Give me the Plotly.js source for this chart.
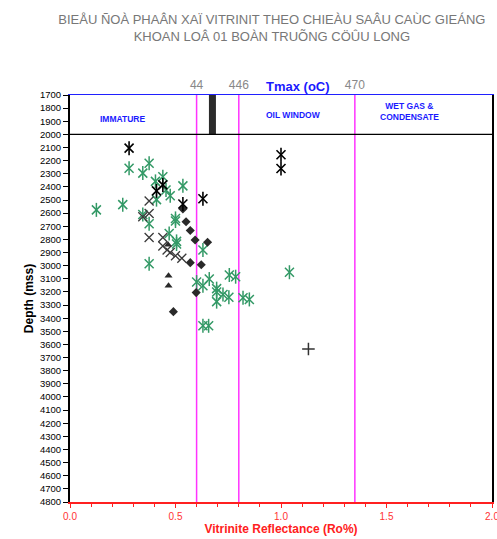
<!DOCTYPE html>
<html>
<head>
<meta charset="utf-8">
<script src="https://cdn.plot.ly/plotly-3.0.1.min.js"></script>
<style>html,body{margin:0;padding:0;background:#fff;}#chart{width:497px;height:539px;}</style>
</head>
<body>
<div id="chart"></div>
<script>
// ---- data ----
const blackAstX = [0.28, 0.41, 0.44, 0.535, 0.63, 1.00, 1.00];
const blackAstY = [2105, 2430, 2385, 2530, 2490, 2155, 2260];

const greenAstX = [0.125, 0.25, 0.28, 0.345, 0.375, 0.405, 0.44, 0.455, 0.475, 0.41, 0.535, 0.345, 0.375, 0.50, 0.50, 0.47, 0.505, 0.505, 0.375, 0.63, 0.60, 0.63, 0.66, 0.755, 0.785, 0.695, 0.695, 0.725, 0.753, 0.695, 0.82, 0.85, 1.04, 0.63, 0.657];
const greenAstY = [2575, 2535, 2258, 2295, 2220, 2358, 2322, 2423, 2468, 2497, 2392, 2610, 2680, 2640, 2660, 2755, 2815, 2835, 2985, 2880, 3125, 3153, 3102, 3071, 3084, 3175, 3200, 3220, 3240, 3274, 3244, 3257, 3050, 3458, 3458];

const crossX = [0.375, 0.375, 0.345, 0.375, 0.44, 0.44, 0.46, 0.475, 0.50, 0.53];
const crossY = [2507, 2603, 2627, 2785, 2785, 2850, 2880, 2900, 2925, 2943];

const diamondX = [0.535, 0.55, 0.57, 0.593, 0.652, 0.57, 0.622, 0.598, 0.49];
const diamondY = [2568, 2665, 2732, 2804, 2822, 2977, 2993, 3205, 3350];

const triangleX = [0.465, 0.467, 0.467];
const triangleY = [2840, 3076, 3152];

const plusX = [1.13];
const plusY = [3635];

const tmaxBarX = [0.675, 0.675];
const tmaxBarY = [1700, 2000];

const zoneBoundaries = [0.6, 0.8, 1.35];
const tmaxLabels = ['44', '446', '470'];
const zoneTopDepth = 2000;
const zoneNames = ['IMMATURE', 'OIL WINDOW', 'WET GAS &<br>CONDENSATE'];
const zoneNameX = [0.248, 1.057, 1.61];
const zoneNameY = [1883, 1852, 1822];

const depthTicks = [];
for (let d = 1700; d <= 4800; d += 100) depthTicks.push(d);

// ---- traces ----
const green = '#339966';
function openMarker(symbol, size, color, width) {
  return {symbol: symbol, size: size, color: color, line: {color: color, width: width}};
}
const traces = [
  {x: tmaxBarX, y: tmaxBarY, mode: 'lines', line: {color: '#2b2b2b', width: 7}, hoverinfo: 'skip'},
  {x: greenAstX, y: greenAstY, mode: 'markers', marker: openMarker('x-thin-open', 9, green, 1.5)},
  {x: greenAstX, y: greenAstY, mode: 'markers', marker: openMarker('line-ns-open', 10, green, 1.5)},
  {x: crossX, y: crossY, mode: 'markers', marker: openMarker('x-thin-open', 9, '#3a3a3a', 1.3)},
  {x: diamondX, y: diamondY, mode: 'markers', marker: {symbol: 'diamond', size: 7, color: '#2a2a2a'}},
  {x: triangleX, y: triangleY, mode: 'markers', marker: {symbol: 'triangle-up', size: 7, color: '#2a2a2a'}},
  {x: blackAstX, y: blackAstY, mode: 'markers', marker: openMarker('x-thin-open', 9, '#000', 1.6)},
  {x: blackAstX, y: blackAstY, mode: 'markers', marker: openMarker('line-ns-open', 10, '#000', 1.6)},
  {x: plusX, y: plusY, mode: 'markers', marker: openMarker('cross-thin-open', 9, '#333', 1.5)},
  {x: [0, 2], y: [1700, 1700], xaxis: 'x2', mode: 'lines', line: {width: 0}, hoverinfo: 'skip'}
];

const shapes = zoneBoundaries.map(v => ({
  type: 'line', xref: 'x', yref: 'y', x0: v, x1: v, y0: 1700, y1: 4800,
  line: {color: '#ff33ff', width: 1.5}, layer: 'below'
}));
shapes.push({type: 'line', xref: 'paper', yref: 'y', x0: 0, x1: 1, y0: zoneTopDepth, y1: zoneTopDepth,
  line: {color: '#000', width: 1.2}});

const annotations = zoneNames.map((t, i) => ({
  x: zoneNameX[i], y: zoneNameY[i], xref: 'x', yref: 'y', text: '<b>' + t + '</b>',
  showarrow: false, font: {family: 'Liberation Sans, Arial', size: 8.5, color: '#1a1aff'}
}));
annotations.push({x: 1.08, y: 1, xref: 'x', yref: 'paper', yanchor: 'bottom', yshift: -1,
  text: '<b>Tmax (oC)</b>', showarrow: false, font: {family: 'Liberation Sans, Arial', size: 13, color: '#1a1aff'}});

const layout = {
  width: 497, height: 539,
  margin: {l: 69.5, r: 5, t: 95, b: 37},
  paper_bgcolor: '#fff', plot_bgcolor: '#fff',
  showlegend: false,
  title: {
    text: 'BIEÅU ÑOÀ PHAÂN XAÏ VITRINIT THEO CHIEÀU SAÂU CAÙC GIEÁNG<br>KHOAN LOÂ 01 BOÀN TRUÕNG CÖÛU LONG',
    x: 0.547, xanchor: 'center', xref: 'container', y: 0.956, yanchor: 'middle', yref: 'container',
    font: {family: 'Liberation Sans, Arial', size: 13, color: '#777'}
  },
  xaxis: {
    range: [0, 2], dtick: 0.5, tickformat: '.1f', showgrid: false, zeroline: false,
    showline: true, linecolor: '#ff2020', linewidth: 2,
    ticks: 'outside', ticklen: 4, tickcolor: '#ff2020', ticklabeloverflow: 'allow',
    minor: {dtick: 0.1, ticks: 'outside', ticklen: 3, tickcolor: '#ff2020', showgrid: false},
    tickfont: {family: 'Liberation Sans, Arial', size: 10, color: '#ff3333'},
    title: {text: '<b>Vitrinite Reflectance (Ro%)</b>', standoff: 2,
      font: {family: 'Liberation Sans, Arial', size: 12, color: '#ff2020'}},
    automargin: false
  },
  xaxis2: {
    overlaying: 'x', side: 'top', range: [0, 2], tickvals: zoneBoundaries, ticktext: tmaxLabels,
    showgrid: false, zeroline: false, showline: true, linecolor: '#2020ff', linewidth: 1.5,
    ticks: '', tickfont: {family: 'Liberation Sans, Arial', size: 12, color: '#888'},
    automargin: false
  },
  yaxis: {
    range: [4800, 1700], tickvals: depthTicks, ticktext: depthTicks.map(String),
    showgrid: false, zeroline: false,
    showline: true, linecolor: '#000', linewidth: 2, mirror: true,
    ticks: 'outside', ticklen: 5, tickcolor: '#000',
    tickfont: {family: 'Liberation Sans, Arial', size: 9.5, color: '#000'},
    title: {text: '<b>Depth (mss)</b>', standoff: 4,
      font: {family: 'Liberation Sans, Arial', size: 12, color: '#000'}},
    automargin: false
  },
  shapes: shapes,
  annotations: annotations
};

Plotly.newPlot('chart', traces, layout, {displayModeBar: false, staticPlot: true});
</script>
</body>
</html>
